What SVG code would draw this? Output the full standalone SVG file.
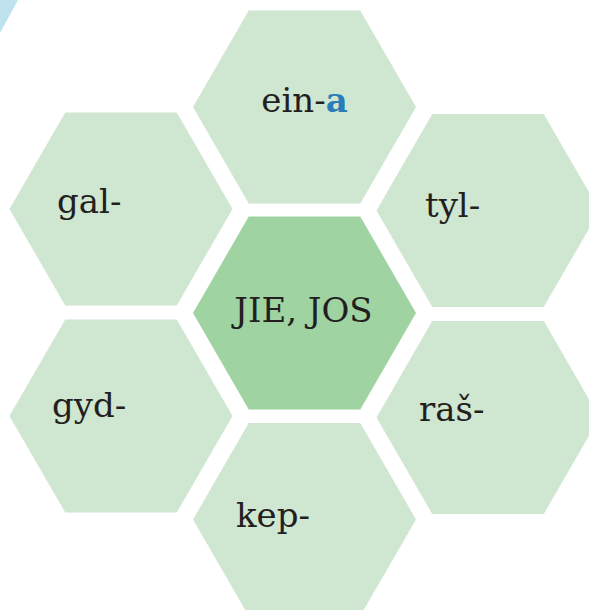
<svg xmlns="http://www.w3.org/2000/svg" xmlns:xlink="http://www.w3.org/1999/xlink" width="589" height="610" viewBox="0 0 589 610">
  <style>
    .hex-light { fill: #cfe6d0; }
    .hex-center { fill: #9fd3a2; }
    .label { font-family: "DejaVu Serif", "Liberation Serif", serif; font-size: 34px; fill: #231f20; }
    .accent { fill: #2a7db8; font-weight: bold; }
  </style>
  <defs>
    <polygon id="hex" points="-111.5,0 -55.75,-96.5 55.75,-96.5 111.5,0 55.75,96.5 -55.75,96.5"/>
  </defs>
  <rect width="589" height="610" fill="#ffffff"/>
  <polygon points="0,0 18,0 0,33" fill="#bfe2ef"/>
  <g id="connectors"></g>
  <g id="node-ein">
    <use xlink:href="#hex" href="#hex" x="304.5" y="107" class="hex-light"/>
    <text class="label" x="304.5" y="112" text-anchor="middle">ein-<tspan class="accent">a</tspan></text>
  </g>
  <g id="node-gal">
    <use xlink:href="#hex" href="#hex" x="121" y="209" class="hex-light"/>
    <text class="label" x="57" y="213">gal-</text>
  </g>
  <g id="node-tyl">
    <use xlink:href="#hex" href="#hex" x="488" y="210.5" class="hex-light"/>
    <text class="label" x="425" y="217">tyl-</text>
  </g>
  <g id="node-center">
    <use xlink:href="#hex" href="#hex" x="304.5" y="313" class="hex-center"/>
    <text class="label" x="303.5" y="322" text-anchor="middle">JIE, JOS</text>
  </g>
  <g id="node-gyd">
    <use xlink:href="#hex" href="#hex" x="121" y="416" class="hex-light"/>
    <text class="label" x="52" y="417">gyd-</text>
  </g>
  <g id="node-ras">
    <use xlink:href="#hex" href="#hex" x="488" y="417.5" class="hex-light"/>
    <text class="label" x="419" y="421">raš-</text>
  </g>
  <g id="node-kep">
    <use xlink:href="#hex" href="#hex" x="304.5" y="519.5" class="hex-light"/>
    <text class="label" x="236" y="527">kep-</text>
  </g>
</svg>
